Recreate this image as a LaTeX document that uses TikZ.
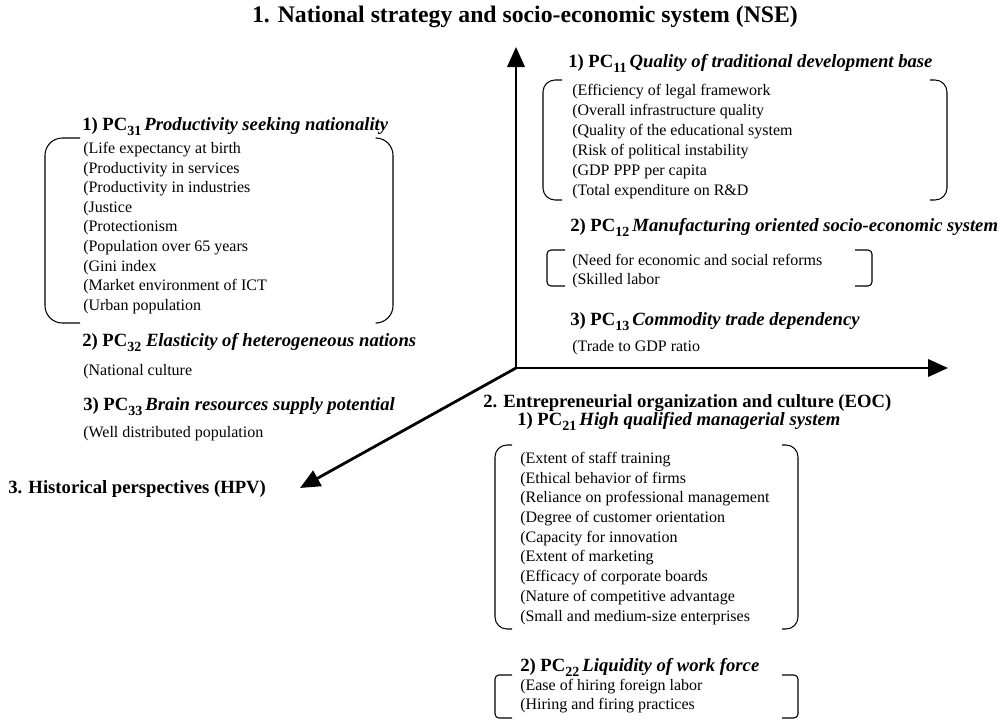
\documentclass[tikz,border=0pt]{standalone}
\usepackage{fontspec}
\setmainfont{Liberation Serif}
\usetikzlibrary{arrows.meta}
\newcommand{\pcsub}[1]{\raisebox{-0.28em}{\fontsize{10.5}{12}\selectfont\bfseries #1}}
\begin{document}
\begin{tikzpicture}[x=0.75pt,y=-0.75pt,
  ttl/.style={font=\fontsize{17.8}{20}\selectfont\bfseries, inner sep=0pt},
  sect/.style={font=\fontsize{14}{17}\selectfont\bfseries, anchor=west, inner sep=0pt, text height=0.72em, text depth=0.2em},
  itm/.style={font=\fontsize{12}{14}\selectfont, anchor=west, inner sep=0pt, text height=0.72em, text depth=0.2em},
  brk/.style={line width=0.8pt},
  axisline/.style={line width=2.1pt},
  tip/.style={-{Triangle[length=15pt,width=13pt]}}
]
\useasboundingbox (0,0) rectangle (1001,721);

% axes
\coordinate (O) at (516,368);
\coordinate (Ytip) at (516,47);
\coordinate (Xtip) at (948,368);
\coordinate (Ztip) at (300,488);
\draw[axisline,{Triangle[length=15pt,width=13pt]}-{Triangle[length=15pt,width=13pt]}] (Ytip) -- (O) -- (Xtip);
\draw[axisline,tip] (O) -- (Ztip);

% titles
\node[ttl] (nse) at (525,17) {1. National strategy and socio-economic system (NSE)};
\node[sect] (eoc) at (483,404) {2. Entrepreneurial organization and culture (EOC)};
\node[sect] (hpv) at (8,490) {3. Historical perspectives (HPV)};

% group 1
\node[sect] (h11) at (568,64) {1) PC\pcsub{11}\,\textit{Quality of traditional development base}};
\foreach \t [count=\i] in {Efficiency of legal framework,Overall infrastructure quality,Quality of the educational system,Risk of political instability,GDP PPP per capita,Total expenditure on R\&D}
  \node[itm] (a11-\i) at (572,{92+20*(\i-1)}) {(\t};
\draw[brk,rounded corners=9pt] (562,80) -- (543,80) -- (543,200) -- (562,200);
\draw[brk,rounded corners=9pt] (930,80) -- (947,80) -- (947,200) -- (930,200);

\node[sect] (h12) at (570,228) {2) PC\pcsub{12}\,\textit{Manufacturing oriented socio-economic system}};
\node[itm] (a12-1) at (572,262) {(Need for economic and social reforms};
\node[itm] (a12-2) at (572,281) {(Skilled labor};
\draw[brk,rounded corners=3pt] (565,250) -- (547,250) -- (547,286) -- (565,286);
\draw[brk,rounded corners=3pt] (855,250) -- (872,250) -- (872,286) -- (855,286);

\node[sect] (h13) at (570,322) {3) PC\pcsub{13}\,\textit{Commodity trade dependency}};
\node[itm] (a13-1) at (572,348) {(Trade to GDP ratio};

% group 2
\node[sect] (h21) at (517,422) {1) PC\pcsub{21}\,\textit{High qualified managerial system}};
\foreach \t [count=\i] in {Extent of staff training,Ethical behavior of firms,Reliance on professional management,Degree of customer orientation,Capacity for innovation,Extent of marketing,Efficacy of corporate boards,Nature of competitive advantage,Small and medium-size enterprises}
  \node[itm] (a21-\i) at (520,{460+19.7*(\i-1)}) {(\t};
\draw[brk,rounded corners=9pt] (512,445) -- (495,445) -- (495,629) -- (512,629);
\draw[brk,rounded corners=9pt] (782,445) -- (798,445) -- (798,629) -- (782,629);

\node[sect] (h22) at (520,668) {2) PC\pcsub{22}\,\textit{Liquidity of work force}};
\node[itm] (a22-1) at (520,687) {(Ease of hiring foreign labor};
\node[itm] (a22-2) at (520,706) {(Hiring and firing practices};
\draw[brk,rounded corners=3pt] (512,675) -- (495,675) -- (495,718) -- (512,718);
\draw[brk,rounded corners=3pt] (782,675) -- (798,675) -- (798,718) -- (782,718);

% group 3
\node[sect] (h31) at (82,127) {1) PC\pcsub{31}\,\textit{Productivity seeking nationality}};
\foreach \t [count=\i] in {Life expectancy at birth,Productivity in services,Productivity in industries,Justice,Protectionism,Population over 65 years,Gini index,Market environment of ICT,Urban population}
  \node[itm] (a31-\i) at (83,{150+19.6*(\i-1)}) {(\t};
\draw[brk,rounded corners=13pt] (80,138) -- (45,138) -- (45,323) -- (80,323);
\draw[brk,rounded corners=13pt] (377,138) -- (393,138) -- (393,323) -- (377,323);

\node[sect] (h32) at (82,343) {2) PC\pcsub{32} \textit{Elasticity of heterogeneous nations}};
\node[itm] (a32-1) at (83,372) {(National culture};
\node[sect] (h33) at (83,407) {3) PC\pcsub{33}\,\textit{Brain resources supply potential}};
\node[itm] (a33-1) at (83,434) {(Well distributed population};
\end{tikzpicture}
\end{document}
